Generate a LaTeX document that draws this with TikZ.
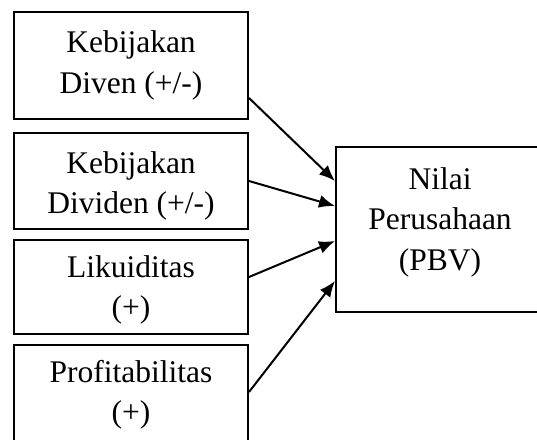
\documentclass[tikz,border=0pt]{standalone}
\usepackage{fontspec}
\setmainfont{Liberation Serif}
\usetikzlibrary{arrows.meta}

\begin{document}
\begin{tikzpicture}[x=1pt, y=-1pt,
    varbox/.style={draw, line width=2pt, minimum width=234pt, inner sep=0pt},
    vartext/.style={align=center, inner sep=0pt, font=\fontsize{31.5}{40.5}\selectfont},
    link/.style={line width=2pt, -{Latex[length=16pt,width=13pt]}}]
    % Page area
    \useasboundingbox (0,0) rectangle (537,439);
    \clip (0,0) rectangle (537,439);
    % Independent variables
    \node[varbox, minimum height=107pt] (diven) at (131,65.5) {};
    \node[vartext] (divenText) at (131,65.5) {Kebijakan\\Diven (+/-)};
    \node[varbox, minimum height=96pt] (dividen) at (131,181) {};
    \node[vartext] (dividenText) at (131,186) {Kebijakan\\Dividen (+/-)};
    \node[varbox, minimum height=94pt] (likuid) at (131,287) {};
    \node[vartext] (likuidText) at (131,290) {Likuiditas\\(+)};
    \node[varbox, minimum height=100pt] (profit) at (131,395) {};
    \node[vartext] (profitText) at (131,395) {Profitabilitas\\(+)};
    % Dependent variable
    \node[varbox, minimum width=208pt, minimum height=165pt] (nilai) at (440,229.5) {};
    \node[vartext] (nilaiText) at (440,222) {Nilai\\Perusahaan\\(PBV)};
    % Arrows
    \draw[link] ([yshift=-32.5pt]diven.east) -- ([yshift=48.5pt]nilai.west);
    \draw[link] (dividen.east) -- ([yshift=23.5pt]nilai.west);
    \draw[link] ([yshift=10pt]likuid.east) -- ([yshift=-11.5pt]nilai.west);
    \draw[link] ([yshift=3pt]profit.east) -- ([yshift=-51.5pt]nilai.west);
\end{tikzpicture}
\end{document}
